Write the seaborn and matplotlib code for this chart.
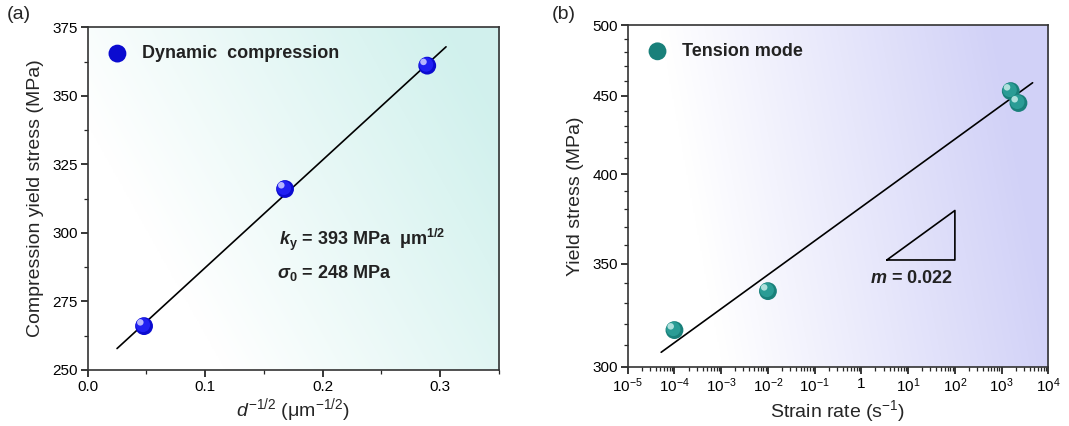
import numpy as np
import pandas as pd
import matplotlib
matplotlib.use("Agg")
import matplotlib.pyplot as plt
import matplotlib.transforms as mtransforms
from matplotlib.ticker import FixedLocator, FixedFormatter, MultipleLocator, NullFormatter, LogLocator
import seaborn as sns

# ---------------- data ----------------
grain_x = [0.048, 0.168, 0.289]          # d^-1/2 (um^-1/2)
comp_stress = [266, 316, 361]             # MPa
fit_a_x = [0.025, 0.305]
ky = 393
sigma0 = 248

strain_rate = [1e-4, 1e-2, 1.57e3, 2.29e3]
tens_stress = [317, 336, 453, 445]
fit_b_x = [5.2e-5, 4.6e3]
m_slope = 0.022
stress_at_unit_rate = 381
tri_x = [3.5, 100, 100, 3.5]
tri_y = [352, 352, 379, 352]

a_yticks = [250, 275, 300, 325, 350, 375]
a_xticks = [0.0, 0.1, 0.2, 0.3]
b_yticks = [300, 350, 400, 450, 500]
b_xticks = [1e-5, 1e-4, 1e-3, 1e-2, 1e-1, 1, 1e1, 1e2, 1e3, 1e4]
b_xticklabels = [r"$10^{-5}$", r"$10^{-4}$", r"$10^{-3}$", r"$10^{-2}$", r"$10^{-1}$",
                 "1", r"$10^{1}$", r"$10^{2}$", r"$10^{3}$", r"$10^{4}$"]

# ---------------- style ----------------
sns.set_theme(style="ticks")
plt.rcParams["font.family"] = ["Liberation Sans", "DejaVu Sans"]
plt.rcParams["mathtext.fontset"] = "custom"
plt.rcParams["mathtext.rm"] = "Liberation Sans"
plt.rcParams["mathtext.it"] = "Liberation Sans:italic"
plt.rcParams["mathtext.bf"] = "Liberation Sans:bold"
plt.rcParams["mathtext.bfit"] = "Liberation Sans:italic:bold"
plt.rcParams["mathtext.sf"] = "Liberation Sans"
plt.rcParams["axes.linewidth"] = 1.2

fig = plt.figure(figsize=(10.69, 4.26), dpi=100)
axA = fig.add_axes([0.082, 0.1315, 0.3847, 0.8045])
axB = fig.add_axes([0.5872, 0.1385, 0.3935, 0.8028])


def gradient(ax, rgb, kind):
    u = np.linspace(0, 1, 300)
    U, V = np.meshgrid(u, u)
    if kind == "a":
        t = np.clip((0.75 * U + 0.35 * V - 0.25) / 0.75, 0, 1)
    else:
        t = np.clip((U - 0.15 + 0.15 * (V - 0.5)) / 0.8, 0, 1)
    img = 1 - t[..., None] * (1 - np.array(rgb))
    ax.imshow(img, extent=(0, 1, 0, 1), transform=ax.transAxes, origin="lower",
              aspect="auto", zorder=0, interpolation="bilinear")


def spheres(ax, df, x, y, dark, mid, light, label):
    sns.scatterplot(data=df, x=x, y=y, ax=ax, s=165, color=dark, edgecolor="none",
                    zorder=4, label=label)
    off1 = ax.transData + mtransforms.ScaledTranslation(-0.8 / 72, 0.8 / 72, fig.dpi_scale_trans)
    off2 = ax.transData + mtransforms.ScaledTranslation(-2.7 / 72, 2.7 / 72, fig.dpi_scale_trans)
    ax.scatter(df[x], df[y], s=105, color=mid, edgecolor="none", zorder=5, transform=off1)
    ax.scatter(df[x], df[y], s=22, color=light, edgecolor="none", zorder=6, transform=off2,
               alpha=0.9)


# ---------------- panel (a) ----------------
axA.set_xlim(0, 0.35)
axA.set_ylim(250, 375)
axA.set_autoscale_on(False)
gradient(axA, (0.82, 0.945, 0.93), "a")

fit_a = pd.DataFrame({"x": fit_a_x, "y": [sigma0 + ky * v for v in fit_a_x]})
sns.lineplot(data=fit_a, x="x", y="y", ax=axA, color="black", lw=1.2, zorder=3)
dfa = pd.DataFrame({"x": grain_x, "y": comp_stress})
spheres(axA, dfa, "x", "y", "#0b0bd0", "#2020f2", "#c8c8ff", "Dynamic  compression")

axA.xaxis.set_major_locator(FixedLocator(a_xticks))
axA.xaxis.set_minor_locator(MultipleLocator(0.05))
axA.yaxis.set_major_locator(FixedLocator(a_yticks))
axA.yaxis.set_minor_locator(MultipleLocator(12.5))
axA.set_xlabel(r"$d^{-1/2}$ (μm$^{-1/2}$)", fontsize=14, labelpad=2)
axA.set_ylabel("Compression yield stress (MPa)", fontsize=14, labelpad=6)
axA.text(0.163, 297.5, r"$\mathbfit{k}_\mathbf{y}$ = 393 MPa  μm$^\mathbf{1/2}$",
         fontsize=13, fontweight="bold", va="center", ha="left", color="#222222", zorder=7)
axA.text(0.161, 285.4, r"$\mathbfit{\sigma}_\mathbf{0}$ = 248 MPa",
         fontsize=13, fontweight="bold", va="center", ha="left", color="#222222", zorder=7)

# ---------------- panel (b) ----------------
axB.set_xscale("log")
axB.set_yscale("log")
axB.set_xlim(1e-5, 1e4)
axB.set_ylim(300, 500)
axB.set_autoscale_on(False)
gradient(axB, (0.82, 0.82, 0.97), "b")

fit_b = pd.DataFrame({"x": fit_b_x,
                      "y": [stress_at_unit_rate * v ** m_slope for v in fit_b_x]})
sns.lineplot(data=fit_b, x="x", y="y", ax=axB, color="black", lw=1.2, zorder=3)
axB.plot(tri_x, tri_y, color="black", lw=1.2, zorder=3)
dfb = pd.DataFrame({"x": strain_rate, "y": tens_stress})
spheres(axB, dfb, "x", "y", "#19807a", "#2a9c95", "#bfe8e4", "Tension mode")

axB.xaxis.set_major_locator(FixedLocator(b_xticks))
axB.xaxis.set_major_formatter(FixedFormatter(b_xticklabels))
axB.xaxis.set_minor_locator(LogLocator(base=10, subs=np.arange(2, 10), numticks=100))
axB.xaxis.set_minor_formatter(NullFormatter())
axB.yaxis.set_major_locator(FixedLocator(b_yticks))
axB.yaxis.set_major_formatter(FixedFormatter([str(v) for v in b_yticks]))
axB.yaxis.set_minor_locator(FixedLocator(list(range(300, 501, 10))))
axB.yaxis.set_minor_formatter(NullFormatter())
axB.set_xlabel(r"Strain rate (s$^{-1}$)", fontsize=14, labelpad=2)
axB.set_ylabel("Yield stress (MPa)", fontsize=14, labelpad=6)
axB.text(1.53, 342.6, r"$\mathbfit{m}$ = 0.022", fontsize=13, fontweight="bold",
         va="center", ha="left", color="#222222", zorder=7)

for ax in (axA, axB):
    ax.tick_params(which="major", direction="out", length=5, width=1.1, labelsize=11,
                   colors="black", pad=2)
    ax.tick_params(which="minor", direction="out", length=3, width=0.9)
    ax.tick_params(top=False, right=False, which="both")
    for sp in ax.spines.values():
        sp.set_visible(True)
        sp.set_color("#333333")
    ax.grid(False)
    leg = ax.legend(loc="upper left", frameon=False, prop={"weight": "bold", "size": 13},
                    handletextpad=0.7, borderaxespad=0.6, handlelength=1.3)
    for t in leg.get_texts():
        t.set_color("#222222")

fig.text(0.006, 0.985, "(a)", fontsize=14, va="top", ha="left")
fig.text(0.516, 0.985, "(b)", fontsize=14, va="top", ha="left")

fig.savefig("out.png", dpi=100)
